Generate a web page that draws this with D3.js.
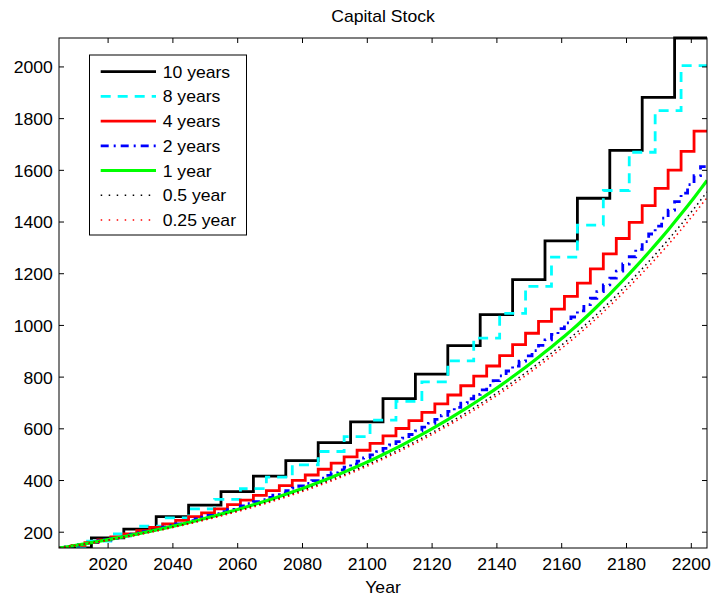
<!DOCTYPE html>
<html>
<head>
<meta charset="utf-8">
<script src="https://cdn.jsdelivr.net/npm/d3@7"></script>
<style>
  html, body { margin: 0; padding: 0; background: #fff; }
  svg { display: block; }
</style>
</head>
<body>
<svg id="chart" width="714" height="600"></svg>
<script>
// ---- data -------------------------------------------------------------
const startYear = 2005;
const endYear = 2205;
const xTicks = [2020, 2040, 2060, 2080, 2100, 2120, 2140, 2160, 2180, 2200];
const yTicks = [200, 400, 600, 800, 1000, 1200, 1400, 1600, 1800, 2000];

// capital stock, one value per time step (step length in years)
const capital10 = [137, 176, 210, 258, 303, 355, 415, 475, 545, 625, 715, 810, 920, 1040, 1175, 1325, 1490, 1675, 1880, 2110];
const capital8 = [137.0, 163.5, 191.2, 221.1, 253.7, 288.3, 325.4, 366.8, 411.1, 458.3, 510.4, 567.9, 631.7,
  704, 780, 861, 949, 1045, 1149, 1262, 1386, 1520, 1668, 1829, 2003];
const capital4 = [137.0, 147.0, 157.6, 168.6, 179.7, 191.5, 203.7, 216.5, 229.9, 243.6,
  258.1, 273.0, 288.7, 305.1, 322.4, 340.7, 358.9, 378.2, 398.4, 419.4,
  441.7, 465.0, 489.4, 515.1, 542.0, 570.4, 599.3, 629.7, 661.4, 694.3,
  728.9, 764.6, 802.1, 841.1, 881.6, 924.0, 967.8, 1013.5, 1061.0, 1110.3,
  1162.0, 1216.9, 1274.6, 1334.4, 1396.5, 1461.6, 1528.5, 1598.6, 1671.3, 1750.0];
const capital2 = [137.0, 141.2, 145.6, 150.1, 154.7, 159.5, 164.2, 169.0, 174.0, 179.1,
  184.3, 189.6, 195.0, 200.5, 206.2, 212.2, 218.0, 224.0, 230.2, 236.5,
  243.0, 249.6, 256.3, 263.2, 270.3, 277.5, 284.9, 292.5, 300.2, 308.1,
  316.4, 324.5, 332.8, 341.4, 350.2, 359.2, 368.4, 377.7, 387.3, 397.3,
  407.4, 417.7, 428.3, 439.1, 450.1, 461.6, 473.2, 485.1, 497.2, 509.7,
  522.5, 535.4, 548.6, 562.2, 576.1, 590.3, 604.7, 619.3, 634.4, 649.7,
  665.5, 681.4, 697.7, 714.3, 731.4, 748.8, 766.4, 784.3, 802.8, 821.7,
  840.9, 860.3, 880.1, 900.4, 921.1, 942.3, 963.7, 985.5, 1007.8, 1030.6,
  1054.0, 1078.3, 1103.1, 1128.6, 1154.6, 1181.2, 1208.1, 1235.6, 1263.8, 1292.6,
  1322.1, 1351.7, 1381.9, 1412.9, 1444.5, 1476.9, 1509.6, 1543.0, 1577.2, 1612.1];
// finer runs, sampled every 2 / 4 years
const capital1 = [137.0, 140.9, 144.9, 149.0, 153.2, 157.6, 162.0, 166.5, 171.1, 175.9,
  180.7, 185.6, 190.7, 195.8, 201.1, 206.6, 212.1, 217.7, 223.5, 229.4,
  235.5, 241.7, 248.0, 254.4, 261.1, 267.9, 274.8, 281.9, 289.1, 296.5,
  304.2, 311.9, 319.8, 327.9, 336.2, 344.7, 353.4, 362.2, 371.3, 380.7,
  390.2, 399.9, 409.9, 420.1, 430.5, 441.3, 452.2, 463.4, 474.8, 486.5,
  498.6, 510.8, 523.3, 536.1, 549.3, 562.7, 576.3, 590.1, 604.4, 618.9,
  633.8, 648.8, 664.2, 679.9, 696.0, 712.5, 729.1, 746.0, 763.4, 781.2,
  799.3, 817.6, 836.3, 855.4, 874.9, 894.9, 915.0, 935.5, 956.5, 978.0,
  1000.0, 1022.9, 1046.2, 1070.2, 1094.6, 1119.6, 1145.0, 1170.9, 1197.4, 1224.6,
  1252.3, 1280.2, 1308.6, 1337.7, 1367.5, 1397.9, 1428.7, 1460.2, 1492.4, 1525.3, 1558.9];
const capital05 = [137.0, 144.6, 152.5, 160.9, 169.7, 178.9, 188.5, 198.5, 209.1, 220.1,
  231.7, 243.8, 256.5, 269.7, 283.5, 298.1, 313.3, 329.2, 345.9, 363.3,
  381.6, 400.7, 420.7, 441.7, 463.6, 486.6, 510.6, 535.9, 562.1, 589.4,
  618.0, 647.5, 678.3, 710.4, 743.7, 778.5, 814.4, 851.8, 890.7, 930.9,
  973.0, 1017.7, 1064.6, 1113.4, 1164.2, 1217.4, 1271.9, 1329.0, 1388.3, 1450.0, 1514.5];
const capital025 = [137.0, 144.4, 152.1, 160.3, 168.9, 178.0, 187.4, 197.2, 207.6, 218.5,
  229.8, 241.8, 254.2, 267.2, 280.8, 295.1, 310.0, 325.7, 342.2, 359.3,
  377.3, 396.1, 415.8, 436.5, 458.0, 480.7, 504.3, 529.2, 555.0, 581.9,
  610.0, 639.1, 669.5, 701.1, 733.9, 768.1, 803.4, 840.3, 878.5, 918.0,
  959.5, 1003.5, 1049.6, 1097.7, 1147.6, 1200.0, 1253.6, 1309.7, 1368.1, 1428.8, 1492.3];

const labels = ["10 years", "8 years", "4 years", "2 years", "1 year", "0.5 year", "0.25 year"];

// ---- layout -----------------------------------------------------------
const plot = { left: 59, right: 707, top: 38, bottom: 548 };
const FONT = "'Liberation Sans', Arial, Helvetica, sans-serif";
const FS = 16, SX = 1.1;

const svg = d3.select("#chart");
const x = d3.scaleLinear().domain([startYear, endYear]).range([plot.left, plot.right]);
const y = d3.scaleLinear().domain([137, 2110]).range([plot.bottom, plot.top]);

const series = [
  { label: labels[0], values: capital10, dt: 10, mode: "step", color: "#000000", width: 2.8, dash: null },
  { label: labels[1], values: capital8, dt: 8, mode: "step", color: "#00ffff", width: 2.8, dash: "10,7" },
  { label: labels[2], values: capital4, dt: 4, mode: "step", color: "#ff0000", width: 2.8, dash: null },
  { label: labels[3], values: capital2, dt: 2, mode: "step", color: "#0000ff", width: 2.8, dash: "8,5,2,5" },
  { label: labels[4], values: capital1, dt: 2, mode: "line", color: "#00ff00", width: 3.2, dash: null },
  { label: labels[5], values: capital05, dt: 4, mode: "line", color: "#000000", width: 1.5, dash: "1.5,3.5" },
  { label: labels[6], values: capital025, dt: 4, mode: "line", color: "#ff0000", width: 1.5, dash: "1.5,3.5" }
];

function points(s) {
  const pts = s.values.map((v, i) => [startYear + i * s.dt, v]);
  if (s.mode === "step") pts.push([endYear, s.values[s.values.length - 1]]);
  return pts;
}

svg.append("defs").append("clipPath").attr("id", "plotClip")
  .append("rect")
  .attr("x", plot.left).attr("y", plot.top - 2)
  .attr("width", plot.right - plot.left).attr("height", plot.bottom - plot.top + 2);

// ---- series -----------------------------------------------------------
const gLines = svg.append("g").attr("clip-path", "url(#plotClip)");
series.forEach(s => {
  const line = d3.line()
    .x(d => x(d[0])).y(d => y(d[1]))
    .curve(s.mode === "step" ? d3.curveStepAfter : d3.curveLinear);
  gLines.append("path")
    .datum(points(s))
    .attr("d", line)
    .attr("fill", "none")
    .attr("stroke", s.color)
    .attr("stroke-width", s.width)
    .attr("stroke-dasharray", s.dash)
    .attr("stroke-linejoin", "miter");
});

// ---- axes -------------------------------------------------------------
const tickLen = 5;
const gx = svg.append("g").attr("transform", `translate(0,${plot.bottom})`)
  .call(d3.axisBottom(x).tickValues(xTicks).tickSize(-tickLen).tickPadding(11).tickFormat(d3.format("d")));
const gxt = svg.append("g").attr("transform", `translate(0,${plot.top})`)
  .call(d3.axisTop(x).tickValues(xTicks).tickSize(-tickLen).tickFormat(""));
const gy = svg.append("g").attr("transform", `translate(${plot.left},0)`)
  .call(d3.axisLeft(y).tickValues(yTicks).tickSize(-tickLen).tickPadding(5.7).tickFormat(d3.format("d")));
const gyr = svg.append("g").attr("transform", `translate(${plot.right},0)`)
  .call(d3.axisRight(y).tickValues(yTicks).tickSize(-tickLen).tickFormat(""));

[gx, gxt, gy, gyr].forEach(g => {
  g.select(".domain").remove();
  g.selectAll(".tick line").attr("stroke", "#000").attr("stroke-width", 1);
  g.selectAll("text").attr("font-family", FONT).attr("font-size", FS).attr("fill", "#000");
});
gx.selectAll(".tick text").attr("transform", `scale(${SX},1)`);
gy.selectAll(".tick text").attr("dy", "0.4em").attr("transform", `scale(${SX},1)`);

// axes box
svg.append("rect")
  .attr("x", plot.left).attr("y", plot.top)
  .attr("width", plot.right - plot.left).attr("height", plot.bottom - plot.top)
  .attr("fill", "none").attr("stroke", "#000").attr("stroke-width", 1);

function addText(str, tx, ty, anchor) {
  svg.append("text")
    .attr("transform", `translate(${tx},${ty}) scale(${SX},1)`)
    .attr("text-anchor", anchor)
    .attr("font-family", FONT).attr("font-size", FS).attr("fill", "#000")
    .text(str);
}
addText("Capital Stock", (plot.left + plot.right) / 2, 22, "middle");
addText("Year", (plot.left + plot.right) / 2, 592.5, "middle");

// ---- legend -----------------------------------------------------------
const lg = { x: 89.5, y: 55, w: 157, h: 180, row0: 71.7, rowH: 24.7, lx0: 100.7, lx1: 156, tx: 162.7 };
svg.append("rect")
  .attr("x", lg.x).attr("y", lg.y).attr("width", lg.w).attr("height", lg.h)
  .attr("fill", "#fff").attr("stroke", "#000").attr("stroke-width", 1);
series.forEach((s, i) => {
  const ry = lg.row0 + i * lg.rowH;
  svg.append("line")
    .attr("x1", lg.lx0).attr("x2", lg.lx1).attr("y1", ry).attr("y2", ry)
    .attr("stroke", s.color)
    .attr("stroke-width", s.width)
    .attr("stroke-dasharray", s.mode === "line" && s.dash ? "1.5,6.5" : s.dash);
  addText(s.label, lg.tx, ry + 6, "start");
});
</script>
</body>
</html>
